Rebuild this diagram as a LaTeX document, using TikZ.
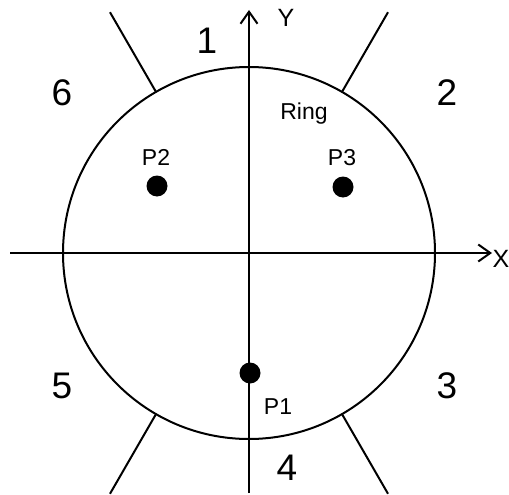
\documentclass[tikz,border=0pt]{standalone}
\usepackage{fontspec}
\setmainfont{Liberation Sans}
\usetikzlibrary{arrows.meta,calc}
\begin{document}
\begin{tikzpicture}[x=1pt,y=-1pt,
  ln/.style={line width=2pt},
  axarrow/.style={ln,-{Straight Barb[length=12pt,width=17pt,line width=2pt]}},
  dot/.style={circle,fill=black,inner sep=0pt,minimum size=21pt},
  big/.style={inner sep=0pt,anchor=base,font=\fontsize{37}{37}\selectfont},
  lab/.style={inner sep=0pt,anchor=base,font=\fontsize{23}{23}\selectfont},
  axlab/.style={inner sep=0pt,anchor=base,font=\fontsize{25}{25}\selectfont}]
\useasboundingbox (0,0) rectangle (509,495);
\coordinate (c) at (249,253);
\coordinate (xl) at (10,253);
\coordinate (xr) at (492,253);
\coordinate (yb) at (249,493);
\coordinate (yt) at (249,10);
\draw[ln] (c) circle (186);
\draw[axarrow] (xl) -- (xr);
\draw[axarrow] (yb) -- (yt);
\foreach \a in {-120,-60,60,120}{
  \draw[ln] ($(c)+(\a:186)$) -- ($(c)+(\a:278)$);
}
\node[dot] (p1) at (250,373) {};
\node[dot] (p2) at (157,186) {};
\node[dot] (p3) at (343,187) {};
\node[lab] (lp1) at (278,414) {P1};
\node[lab] (lp2) at (156,165.5) {P2};
\node[lab] (lp3) at (342,165) {P3};
\node[lab] (ring) at (304,119) {Ring};
\node[axlab] (ly) at (286,27) {Y};
\node[axlab] (lx) at (501,267) {X};
\node[big] (n1) at (207,53.5) {1};
\node[big] (n2) at (447,106) {2};
\node[big] (n3) at (447,398) {3};
\node[big] (n4) at (287,480) {4};
\node[big] (n5) at (62,398) {5};
\node[big] (n6) at (62,105.7) {6};
\end{tikzpicture}
\end{document}
